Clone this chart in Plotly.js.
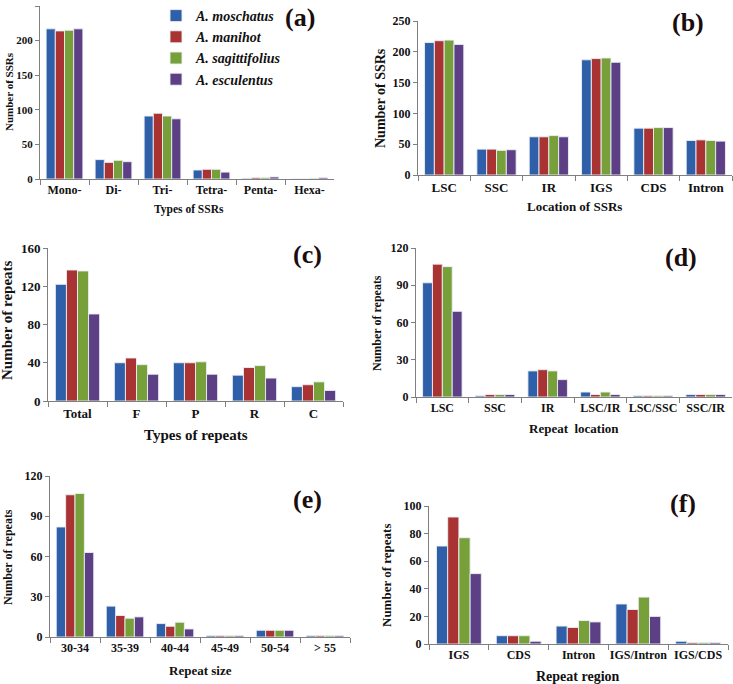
<!DOCTYPE html>
<html>
<head>
<meta charset="utf-8">
<script src="https://cdn.plot.ly/plotly-3.0.1.min.js"></script>
<style>html,body{margin:0;padding:0;background:#fff}#chart{width:733px;height:684px}</style>
</head>
<body>
<div id="chart"></div>
<script>
// ---- Data ----
const species = ["A. moschatus", "A. manihot", "A. sagittifolius", "A. esculentus"];
const colors = ["#2E5FA8", "#A93232", "#77A03B", "#5C3F84"];

// (a) Types of SSRs
const catA = ["Mono-", "Di-", "Tri-", "Tetra-", "Penta-", "Hexa-"];
const a_mos = [217, 28, 91, 13, 1, 0];
const a_man = [214, 24, 95, 14, 2, 0];
const a_sag = [215, 27, 91, 14, 2, 1];
const a_esc = [217, 25, 87, 10, 3, 2];

// (b) Location of SSRs
const catB = ["LSC", "SSC", "IR", "IGS", "CDS", "Intron"];
const b_mos = [215, 42, 62, 187, 76, 56];
const b_man = [218, 42, 62, 189, 76, 57];
const b_sag = [219, 40, 64, 190, 77, 56];
const b_esc = [212, 41, 62, 183, 77, 55];

// (c) Types of repeats
const catC = ["Total", "F", "P", "R", "C"];
const c_mos = [122, 40, 40, 27, 15];
const c_man = [137, 45, 40, 35, 17];
const c_sag = [136, 38, 41, 37, 20];
const c_esc = [91, 28, 28, 24, 11];

// (d) Repeat location
const catD = ["LSC", "SSC", "IR", "LSC/IR", "LSC/SSC", "SSC/IR"];
const d_mos = [92, 1, 21, 4, 1, 2];
const d_man = [107, 2, 22, 2, 1, 2];
const d_sag = [105, 2, 21, 4, 1, 2];
const d_esc = [69, 2, 14, 2, 1, 2];

// (e) Repeat size
const catE = ["30-34", "35-39", "40-44", "45-49", "50-54", "> 55"];
const e_mos = [82, 23, 10, 1, 5, 1];
const e_man = [106, 16, 8, 1, 5, 1];
const e_sag = [107, 14, 11, 1, 5, 1];
const e_esc = [63, 15, 6, 1, 5, 1];

// (f) Repeat region
const catF = ["IGS", "CDS", "Intron", "IGS/Intron", "IGS/CDS"];
const f_mos = [71, 6, 13, 29, 2];
const f_man = [92, 6, 12, 25, 1];
const f_sag = [77, 6, 17, 34, 1];
const f_esc = [51, 2, 16, 20, 1];

// ---- Build ----
const FONT = "'Liberation Serif', 'Times New Roman', Times, serif";
const panels = [
  {cats: catA, series: [a_mos, a_man, a_sag, a_esc], ax: "", legend: true},
  {cats: catB, series: [b_mos, b_man, b_sag, b_esc], ax: "2"},
  {cats: catC, series: [c_mos, c_man, c_sag, c_esc], ax: "3"},
  {cats: catD, series: [d_mos, d_man, d_sag, d_esc], ax: "4"},
  {cats: catE, series: [e_mos, e_man, e_sag, e_esc], ax: "5"},
  {cats: catF, series: [f_mos, f_man, f_sag, f_esc], ax: "6"}
];

const traces = [];
panels.forEach(p => {
  p.series.forEach((vals, i) => {
    traces.push({
      type: "bar",
      x: p.cats,
      y: vals,
      name: species[i],
      xaxis: "x" + p.ax,
      yaxis: "y" + p.ax,
      marker: {color: colors[i], line: {color: "rgba(235,240,245,0.9)", width: 1}},
      showlegend: !!p.legend,
      hoverinfo: "x+y+name"
    });
  });
});

const W = 733, H = 684;
function xd(a, b) { return [a / W, b / W]; }
function yd(top, bot) { return [1 - bot / H, 1 - top / H]; }

const specs = [
  {x: xd(40, 334),  y: yd(6, 179),   range: [0, 250], dtick: 50, tf: 11, xf: 12},
  {x: xd(418, 732), y: yd(21, 175),  range: [0, 250], dtick: 50, tf: 12, xf: 13},
  {x: xd(48, 343),  y: yd(248, 401), range: [0, 160], dtick: 40, tf: 13, xf: 13},
  {x: xd(416, 732), y: yd(248, 397), range: [0, 120], dtick: 30, tf: 12, xf: 12},
  {x: xd(50, 350),  y: yd(476, 637), range: [0, 120], dtick: 30, tf: 12, xf: 12},
  {x: xd(429, 728), y: yd(506, 644), range: [0, 100], dtick: 20, tf: 12, xf: 12}
];

const layout = {
  width: W, height: H,
  margin: {l: 0, r: 0, t: 0, b: 0},
  paper_bgcolor: "#fff",
  plot_bgcolor: "#fff",
  barmode: "group",
  bargap: 0.25,
  bargroupgap: 0,
  font: {family: FONT, color: "#111"},
  showlegend: true,
  legend: {
    x: 156 / W, y: 1, xanchor: "left", yanchor: "top",
    font: {family: FONT, size: 14, weight: "bold", style: "italic", color: "#111"},
    bgcolor: "rgba(0,0,0,0)",
    tracegroupgap: 0, itemwidth: 30
  },
  annotations: []
};

specs.forEach((s, i) => {
  const k = i === 0 ? "" : String(i + 1);
  layout["xaxis" + k] = {
    domain: s.x, anchor: "y" + k,
    type: "category",
    showline: true, linecolor: "#7f7f7f", linewidth: 1,
    ticks: "outside", tickson: "boundaries", ticklen: 5, tickcolor: "#7f7f7f",
    tickangle: 0,
    showgrid: false, zeroline: false, fixedrange: true,
    tickfont: {family: FONT, size: s.xf, weight: "bold", color: "#111"}
  };
  layout["yaxis" + k] = {
    domain: s.y, anchor: "x" + k,
    range: s.range, dtick: s.dtick, tick0: 0,
    showline: true, linecolor: "#7f7f7f", linewidth: 1,
    ticks: "outside", ticklen: 4, tickcolor: "#7f7f7f",
    showgrid: false, zeroline: false, fixedrange: true,
    tickfont: {family: FONT, size: s.tf, weight: "bold", color: "#111"}
  };
});

// axis titles and panel labels
const yTitles = [
  {t: "Number of SSRs", x: 9, y: 92, s: 11},
  {t: "Number of SSRs", x: 381, y: 98, s: 14},
  {t: "Number of repeats", x: 7, y: 320, s: 15},
  {t: "Number of repeats", x: 377, y: 323, s: 12},
  {t: "Number of repeats", x: 8, y: 557, s: 12},
  {t: "Number of repeats", x: 386, y: 575, s: 13}
];
const xTitles = [
  {t: "Types of SSRs", x: 189, y: 209, s: 11.5},
  {t: "Location of SSRs", x: 574, y: 207, s: 13},
  {t: "Types of repeats", x: 196, y: 435, s: 15},
  {t: "Repeat  location", x: 574, y: 429, s: 13},
  {t: "Repeat size", x: 200, y: 670, s: 13},
  {t: "Repeat region", x: 578, y: 676, s: 14}
];
const labels = [
  {t: "(a)", x: 300, y: 18},
  {t: "(b)", x: 688, y: 23},
  {t: "(c)", x: 307, y: 254},
  {t: "(d)", x: 681, y: 257},
  {t: "(e)", x: 307, y: 499},
  {t: "(f)", x: 683, y: 503}
];
yTitles.forEach(a => layout.annotations.push({
  text: a.t, x: a.x / W, y: 1 - a.y / H, xref: "paper", yref: "paper",
  xanchor: "center", yanchor: "middle", textangle: -90, showarrow: false,
  font: {family: FONT, size: a.s, weight: "bold", color: "#111"}
}));
xTitles.forEach(a => layout.annotations.push({
  text: a.t, x: a.x / W, y: 1 - a.y / H, xref: "paper", yref: "paper",
  xanchor: "center", yanchor: "middle", showarrow: false,
  font: {family: FONT, size: a.s, weight: "bold", color: "#111"}
}));
labels.forEach(a => layout.annotations.push({
  text: a.t, x: a.x / W, y: 1 - a.y / H, xref: "paper", yref: "paper",
  xanchor: "center", yanchor: "middle", showarrow: false,
  font: {family: FONT, size: 26, weight: "bold", color: "#1a0d0d"}
}));

Plotly.newPlot("chart", traces, layout, {staticPlot: true, displayModeBar: false});
</script>
</body>
</html>
